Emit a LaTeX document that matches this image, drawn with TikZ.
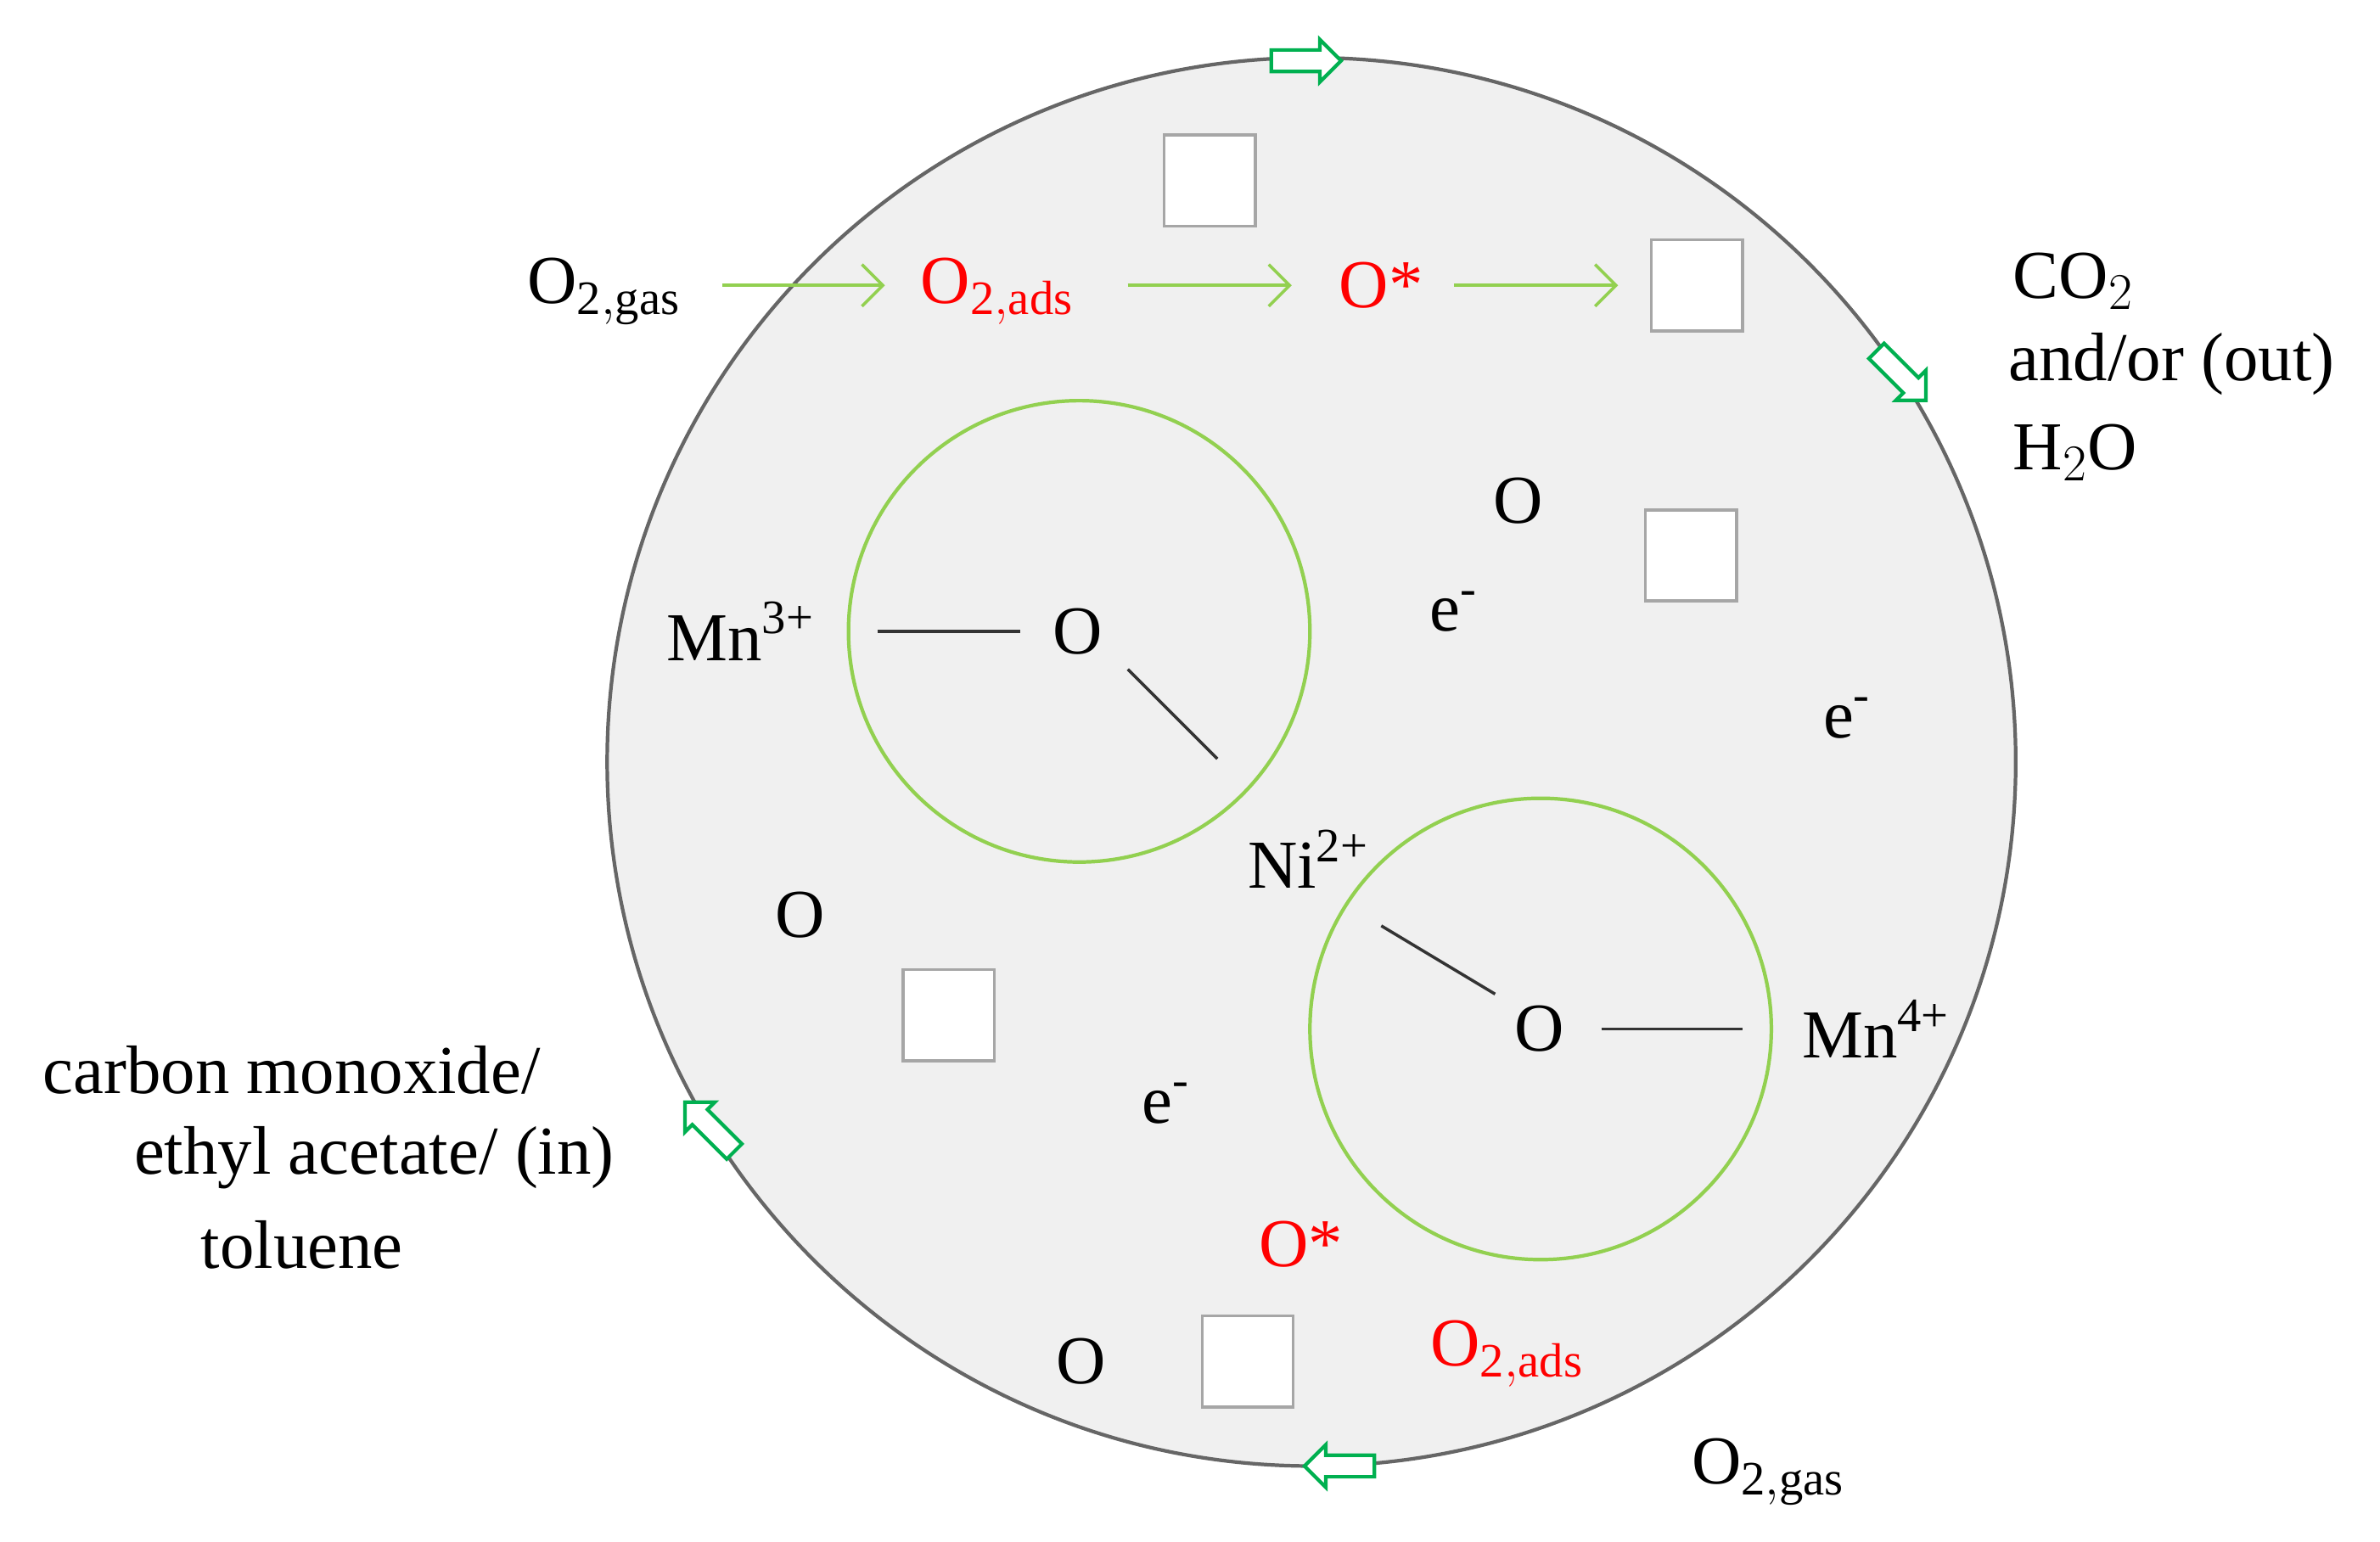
\documentclass[tikz,border=0pt]{standalone}
\usepackage{fontspec}
\setmainfont{Liberation Serif}
\usetikzlibrary{shapes.arrows,arrows.meta}
\definecolor{lg}{RGB}{146,208,80}
\definecolor{dg}{RGB}{0,176,80}
\begin{document}
\begin{tikzpicture}[x=0.01788cm,y=-0.01788cm,
  txt/.style={font=\fontsize{23}{27}\selectfont,inner sep=0pt},
  red/.style={txt,text=red},
  vac/.style={draw=gray!70,line width=1pt,fill=white,minimum size=60*0.01788cm,inner sep=0pt},
  blk/.style={single arrow,draw=dg,fill=white,line width=1.2pt,inner xsep=6pt,inner ysep=3pt,single arrow head extend=3.5pt,minimum height=46*0.01788cm},
  gar/.style={draw=lg,line width=1pt,-{Straight Barb[length=7pt]}},
  bond/.style={draw=gray!40!black,line width=1pt}]
\useasboundingbox (0,0) rectangle (1568,1016);
\node[circle,draw=gray!80!black,line width=1.2pt,fill=gray!12,minimum size=928*0.01788cm,inner sep=0pt] (big) at (864,502) {};
\node[circle,draw=lg,line width=1.2pt,minimum size=304*0.01788cm] (c1) at (711,416) {};
\node[circle,draw=lg,line width=1.2pt,minimum size=304*0.01788cm] (c2) at (1015,678) {};
\node[vac] (s1) at (797,119) {};
\node[vac] (s2) at (1118,188) {};
\node[vac] (s3) at (1114,366) {};
\node[vac] (s4) at (625,669) {};
\node[vac] (s5) at (822,897) {};
\node[blk] (a1) at (857,40) {};
\node[blk,rotate=-45] (a2) at (1250,245) {};
\node[blk,rotate=135] (a3) at (470,745) {};
\node[blk,rotate=180] (a4) at (886,966) {};
\node[txt] (og1) at (398,192) {O$_{\mathrm{2,gas}}$};
\node[red] (oa1) at (657,192) {O$_{\mathrm{2,ads}}$};
\node[red] (os1) at (910,188) {O*};
\coordinate (p1) at (476,188); \coordinate (p2) at (583,188);
\coordinate (p3) at (743,188); \coordinate (p4) at (851,188);
\coordinate (p5) at (958,188); \coordinate (p6) at (1066,188);
\draw[gar] (p1) -- (p2); \draw[gar] (p3) -- (p4); \draw[gar] (p5) -- (p6);
\node[txt,anchor=west] (co2) at (1326,185) {CO$_2$};
\node[txt,anchor=west] (ao) at (1323,240) {and/or (out)};
\node[txt,anchor=west] (h2o) at (1326,298) {H$_2$O};
\node[txt] (o1) at (1000,330) {O};
\node[txt] (e1) at (958,403) {e\textsuperscript{-}};
\node[txt] (e2) at (1217,473) {e\textsuperscript{-}};
\node[txt] (mn3) at (488,416) {Mn\textsuperscript{3+}};
\node[txt] (o2) at (710,416) {O};
\node[txt] (ni) at (862,566) {Ni\textsuperscript{2+}};
\node[txt] (o3) at (527,603) {O};
\node[txt] (o4) at (1014,678) {O};
\node[txt] (mn4) at (1236,678) {Mn\textsuperscript{4+}};
\node[txt] (e3) at (768,727) {e\textsuperscript{-}};
\node[red] (os2) at (857,820) {O*};
\node[txt] (o5) at (712,897) {O};
\node[red] (oa2) at (993,892) {O$_{\mathrm{2,ads}}$};
\node[txt] (og2) at (1165,970) {O$_{\mathrm{2,gas}}$};
\node[txt,anchor=west] (l1) at (28,705) {carbon monoxide/};
\node[txt,anchor=west] (l2) at (88,763) {ethyl acetate/ (in)};
\node[txt,anchor=west] (l3) at (132,820) {toluene};
\coordinate (b1) at (578,416); \coordinate (b2) at (672,416);
\coordinate (b3) at (743,441); \coordinate (b4) at (802,500);
\coordinate (b5) at (910,610); \coordinate (b6) at (985,655);
\coordinate (b7) at (1055,678); \coordinate (b8) at (1148,678);
\draw[bond] (b1)--(b2); \draw[bond] (b3)--(b4); \draw[bond] (b5)--(b6); \draw[bond] (b7)--(b8);
\end{tikzpicture}
\end{document}
